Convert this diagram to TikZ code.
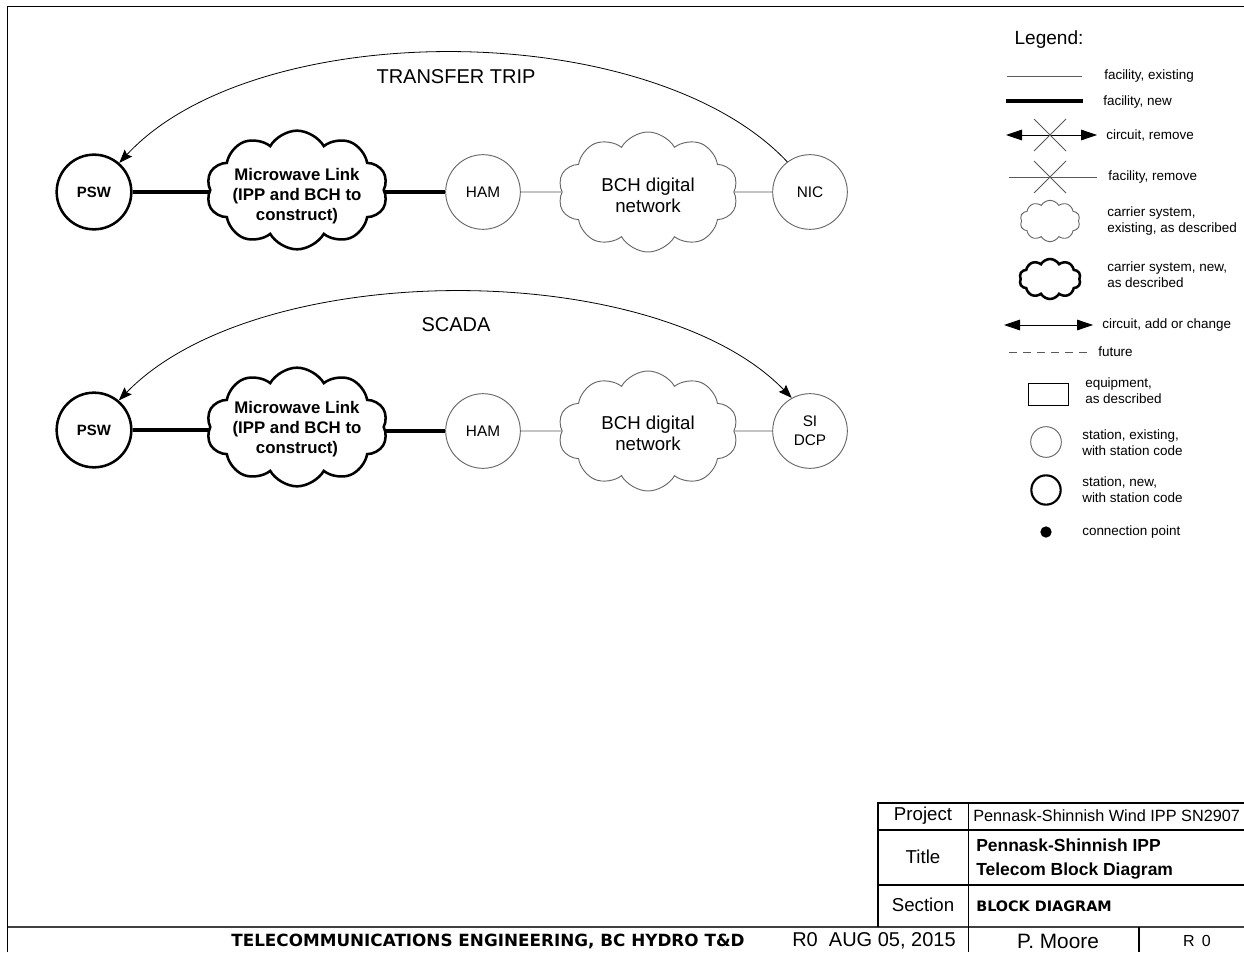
\documentclass[tikz,border=0pt]{standalone}
\usepackage{fontspec}
\setmainfont{Liberation Sans}
\newfontfamily\verdfont{DejaVu Sans}
\usetikzlibrary{shapes.symbols,arrows.meta}
\begin{document}
\begin{tikzpicture}[x=0.75pt,y=-0.75pt,
  newst/.style={circle, draw, line width=1.9pt, minimum size=56pt, inner sep=0pt, font=\bfseries\fontsize{11.2}{13}\selectfont},
  exst/.style={circle, draw=black!60, line width=0.7pt, minimum size=56pt, inner sep=0pt, align=center, font=\fontsize{11.5}{14}\selectfont},
  newcloud/.style={cloud, cloud puffs=10, cloud puff arc=120, cloud ignores aspect, draw, line width=1.9pt, minimum width=136pt, minimum height=89pt, inner sep=0pt},
  excloud/.style={cloud, cloud puffs=10, cloud puff arc=120, cloud ignores aspect, draw=black!60, line width=0.7pt, minimum width=135pt, minimum height=90pt, inner sep=0pt},
  newtxt/.style={align=center, inner sep=0pt, font=\bfseries\fontsize{12.6}{14.8}\selectfont},
  extxt/.style={align=center, inner sep=0pt, font=\fontsize{14}{16}\selectfont},
  newfac/.style={line width=3pt},
  exfac/.style={line width=0.7pt, draw=black!65},
  circ/.style={line width=0.6pt},
  legtxt/.style={anchor=west, align=left, inner sep=0pt, font=\fontsize{10.1}{12}\selectfont},
  tbl/.style={font=\fontsize{14}{16}\selectfont},
  frame/.style={line width=1pt}
]
\useasboundingbox (0,0) rectangle (1244,952);
% frame and title block
\draw[line width=1.2pt] (7.5,952) -- (7.5,6.5) -- (1244,6.5);
\draw[line width=1.5pt, black!75] (7.5,927) -- (1244,927);
\draw[frame] (878,927) -- (878,803) -- (1244,803);
\draw[frame] (878,830) -- (1244,830) (878,885) -- (1244,885);
\draw[frame] (968.5,803) -- (968.5,952) (1139,927) -- (1139,952);

\node[tbl] (proj) at (923,816) {Project};
\node[anchor=west, inner sep=0pt, font=\fontsize{12.2}{15}\selectfont] (projv) at (973,816) {Pennask-Shinnish Wind IPP SN2907};
\node[tbl] (tit) at (923,857) {Title};
\node[anchor=west, inner sep=0pt, align=left, font=\bfseries\fontsize{13.1}{17.8}\selectfont] (titv) at (976,859) {Pennask-Shinnish IPP\\Telecom Block Diagram};
\node[tbl] (sec) at (923,905) {Section};
\node[anchor=west, inner sep=0pt, font=\verdfont\bfseries\fontsize{10.8}{12}\selectfont] (secv) at (976,906) {BLOCK DIAGRAM};
\node[font=\verdfont\bfseries\fontsize{12.6}{14}\selectfont] (org) at (488,941) {TELECOMMUNICATIONS ENGINEERING, BC HYDRO T\&D};
\node[font=\fontsize{15}{17}\selectfont] (date) at (874,941) {R0\ \ AUG 05, 2015};
\node[font=\fontsize{15.6}{17}\selectfont] (auth) at (1058,941) {P. Moore};
\node[font=\fontsize{12}{14}\selectfont] (rev) at (1197,941) {R\,\ 0};

% row 1: transfer trip
\node[newst] (psw1) at (94,192) {PSW};
\node[newcloud] (mw1) at (297,190) {};
\node[newtxt] (mw1t) at (297,196) {Microwave Link\\(IPP and BCH to\\construct)};
\node[exst] (ham1) at (483,192) {HAM};
\node[excloud] (bch1) at (648,192) {};
\node[extxt] (bch1t) at (648,195) {BCH digital\\network};
\node[exst] (nic) at (810,192) {NIC};
\draw[newfac] (psw1) -- (mw1.west |- psw1);
\draw[newfac] (mw1.east |- ham1) -- (ham1);
\draw[exfac] (ham1) -- (bch1);
\draw[exfac] (bch1) -- (nic);
\draw[circ, -{Stealth[length=10pt,width=7.5pt,inset=1.5pt]}] (nic.127) .. controls (650,16) and (255,16) .. (psw1.49);
\node[font=\fontsize{15}{18}\selectfont] (tt) at (456,77) {TRANSFER TRIP};

% row 2: scada
\node[newst] (psw2) at (94,430) {PSW};
\node[newcloud] (mw2) at (297,427) {};
\node[newtxt] (mw2t) at (297,429) {Microwave Link\\(IPP and BCH to\\construct)};
\node[exst] (ham2) at (483,431) {HAM};
\node[excloud] (bch2) at (648,431) {};
\node[extxt] (bch2t) at (648,433) {BCH digital\\network};
\node[exst] (dcp) at (810,431) {SI\\DCP};
\draw[newfac] (psw2) -- (mw2.west |- psw2);
\draw[newfac] (mw2.east |- ham2) -- (ham2);
\draw[exfac] (ham2) -- (bch2);
\draw[exfac] (bch2) -- (dcp);
\draw[circ, {Stealth[length=10pt,width=7.5pt,inset=1.5pt]}-{Stealth[length=10pt,width=7.5pt,inset=1.5pt]}] (psw2.50) .. controls (258,257) and (655,257) .. (dcp.119);
\node[font=\fontsize{15}{18}\selectfont] (sc) at (456,325) {SCADA};

% legend
\node[font=\fontsize{14.3}{17}\selectfont] (leg) at (1049,40) {Legend:};
\draw[exfac] (1007,76) -- (1082,76);
\node[legtxt] (l1) at (1104,76) {facility, existing};
\draw[newfac] (1006,101) -- (1083,101);
\node[legtxt] (l2) at (1103,102) {facility, new};
\draw[circ, {Triangle[length=12pt,width=8pt]}-{Triangle[length=12pt,width=8pt]}] (1006,135) -- (1097,135);
\draw[exfac] (1034,119) -- (1066,151) (1034,151) -- (1066,119);
\node[legtxt] (l3) at (1106,135) {circuit, remove};
\draw[exfac] (1009,177) -- (1097,177);
\draw[exfac] (1034,161) -- (1066,193) (1034,193) -- (1066,161);
\node[legtxt] (l4) at (1108,177) {facility, remove};
\node[excloud, minimum width=45pt, minimum height=31pt] (c1) at (1050,221) {};
\node[legtxt] (l5) at (1107,221) {carrier system,\\existing, as described};
\node[newcloud, minimum width=46pt, minimum height=30pt] (c2) at (1050,279) {};
\node[legtxt] (l6) at (1107,275) {carrier system, new,\\as described};
\draw[circ, {Triangle[length=12pt,width=8pt]}-{Triangle[length=12pt,width=8pt]}] (1004,325) -- (1093,325);
\node[legtxt] (l7) at (1102,325) {circuit, add or change};
\draw[exfac, dash pattern=on 6pt off 4.5pt] (1009,352) -- (1087,352);
\node[legtxt] (l8) at (1098,352) {future};
\draw[line width=0.7pt] (1028,383) rectangle (1068,405);
\node[legtxt] (l9) at (1085,391) {equipment,\\as described};
\node[exst, minimum size=23pt] (s1) at (1046,442) {};
\node[legtxt] (l10) at (1082,443) {station, existing,\\with station code};
\node[newst, minimum size=22pt, line width=1.6pt] (s2) at (1046,490) {};
\node[legtxt] (l11) at (1082,490) {station, new,\\with station code};
\node[circle, fill, inner sep=0pt, minimum size=8.5pt] (cp) at (1046,532) {};
\node[legtxt] (l12) at (1082,532) {connection point};
\end{tikzpicture}
\end{document}
